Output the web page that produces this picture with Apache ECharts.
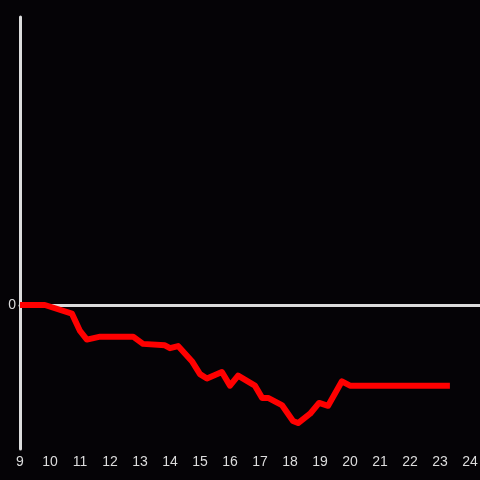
<!DOCTYPE html>
<html>
<head>
<meta charset="utf-8">
<script src="https://cdn.jsdelivr.net/npm/echarts@6/dist/echarts.min.js"></script>
<style>
  html, body { margin: 0; padding: 0; background: #050306; }
  #chart { width: 480px; height: 480px; }
</style>
</head>
<body>
<div id="chart"></div>
<script>
// hour of day / value
const hours = [9.0, 9.83, 10.73, 11.0, 11.23, 11.67, 12.77, 13.1, 13.83, 14.0, 14.27, 14.73, 15.0, 15.23, 15.73, 16.0, 16.27, 16.83, 17.07, 17.27, 17.73, 18.1, 18.27, 18.67, 18.97, 19.27, 19.73, 20.0, 23.33]
const values = [0, 0, -0.06, -0.18, -0.24, -0.22, -0.22, -0.27, -0.28, -0.3, -0.285, -0.39, -0.48, -0.51, -0.465, -0.56, -0.49, -0.56, -0.645, -0.645, -0.695, -0.805, -0.82, -0.755, -0.68, -0.7, -0.53, -0.56, -0.56]
const xTicks = [9, 10, 11, 12, 13, 14, 15, 16, 17, 18, 19, 20, 21, 22, 23, 24]

const chart = echarts.init(document.getElementById('chart'))
const axisColor = '#dcdcdc'
const xMax = 24.5

chart.setOption({
  backgroundColor: '#050306',
  animation: false,
  grid: { left: 20, right: -5, top: 17, bottom: 31, outerBoundsMode: 'none', containLabel: false },
  xAxis: [
    {
      type: 'value',
      min: 9,
      max: xMax,
      interval: 1,
      axisLine: { show: true, onZero: true, lineStyle: { color: axisColor, width: 3 } },
      axisTick: { show: false },
      axisLabel: { show: false },
      splitLine: { show: false }
    },
    {
      type: 'value',
      position: 'bottom',
      min: 9,
      max: xMax,
      interval: 1,
      axisLine: { show: false, onZero: false },
      axisTick: { show: false },
      splitLine: { show: false },
      axisLabel: {
        color: axisColor,
        fontSize: 14,
        fontFamily: 'Liberation Sans',
        margin: 6,
        formatter: v => xTicks.indexOf(v) >= 0 ? String(v) : ''
      }
    }
  ],
  yAxis: {
    type: 'value',
    min: -1,
    max: 2,
    interval: 1,
    axisLine: { show: true, lineStyle: { color: axisColor, width: 3 } },
    axisTick: { show: false },
    splitLine: { show: false },
    axisLabel: {
      color: axisColor,
      fontSize: 14,
      fontFamily: 'Liberation Sans',
      margin: 4,
      formatter: v => v === 0 ? '0' : ''
    }
  },
  series: [
    {
      type: 'line',
      xAxisIndex: 0,
      data: hours.map((h, i) => [h, values[i]]),
      showSymbol: false,
      lineStyle: { color: '#ff0000', width: 6, join: 'round' }
    }
  ]
})
</script>
</body>
</html>
